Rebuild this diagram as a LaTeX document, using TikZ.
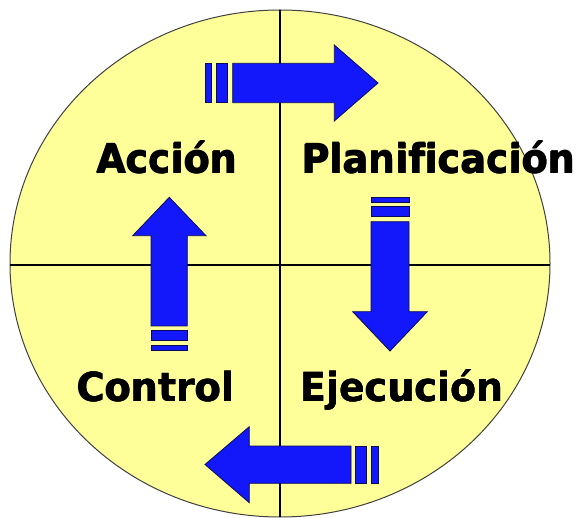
\documentclass[tikz,border=0pt]{standalone}
\usepackage{fontspec}
\setmainfont[Ligatures=NoCommon]{DejaVu Sans}
\definecolor{circfill}{RGB}{255,255,153}
\definecolor{arrblue}{RGB}{18,24,250}
\definecolor{arredge}{RGB}{10,10,90}
\tikzset{
  blockarrow/.style={fill=arrblue, draw=arredge, line width=0.8pt, line join=miter},
  phase/.style={font=\fontsize{40}{40}\selectfont\bfseries, text=black, inner sep=0pt, anchor=base},
  axis/.style={draw=black, line width=1.3pt}
}
\newcommand{\fattext}[1]{\makebox[0pt][l]{\hspace{0.7pt}#1}\makebox[0pt][l]{\hspace{0.35pt}\raisebox{0.5pt}{#1}}#1}
\newcommand{\phasetext}[1]{\scalebox{0.95}[1]{\fattext{#1}}}
\begin{document}
\begin{tikzpicture}[x=1pt,y=-1pt]
\useasboundingbox (0,0) rectangle (581,518);
% circle
\path[fill=circfill, draw=black!75, line width=1pt] (280,263.5) ellipse [x radius=270, y radius=253.5];
\coordinate (vtop) at (280,10);
\coordinate (vbot) at (280,517);
\coordinate (hleft) at (10,265);
\coordinate (hright) at (550,265);
\draw[axis] (vtop) -- (vbot);
\draw[axis] (hleft) -- (hright);
% top arrow (right)
\path[blockarrow] (205,63.3) rectangle (211.7,102.7);
\path[blockarrow] (216.7,63.3) rectangle (227.3,102.7);
\path[blockarrow] (232.7,63.3) -- (334.3,63.3) -- (334.3,45) -- (378,83) -- (334.3,121) -- (334.3,102.7) -- (232.7,102.7) -- cycle;
% right arrow (down)
\path[blockarrow] (371,197.3) rectangle (409,202.7);
\path[blockarrow] (371,206) rectangle (409,216.7);
\path[blockarrow] (371,221.7) -- (371,311.7) -- (352.7,311.7) -- (390,351) -- (427.3,311.7) -- (409,311.7) -- (409,221.7) -- cycle;
% bottom arrow (left)
\path[blockarrow] (371,446) rectangle (378.3,483.3);
\path[blockarrow] (355,446) rectangle (366.7,483.3);
\path[blockarrow] (351,446) -- (249.3,446) -- (249.3,426.7) -- (205,464.5) -- (249.3,502.7) -- (249.3,483.3) -- (351,483.3) -- cycle;
% left arrow (up)
\path[blockarrow] (151,345.3) rectangle (187.3,350.7);
\path[blockarrow] (151,330) rectangle (187.3,340.7);
\path[blockarrow] (151,326) -- (151,235.7) -- (132.7,235.7) -- (169.3,197.3) -- (206,235.7) -- (187.3,235.7) -- (187.3,326) -- cycle;
% labels
\node[phase] (accion) at (166.7,173.3) {\phasetext{Acción}};
\node[phase] (planif) at (438.3,173.3) {\phasetext{Planificación}};
\node[phase] (control) at (155.5,401.7) {\phasetext{Control}};
\node[phase] (ejec) at (401.7,401.7) {\phasetext{Ejecución}};
\end{tikzpicture}
\end{document}
